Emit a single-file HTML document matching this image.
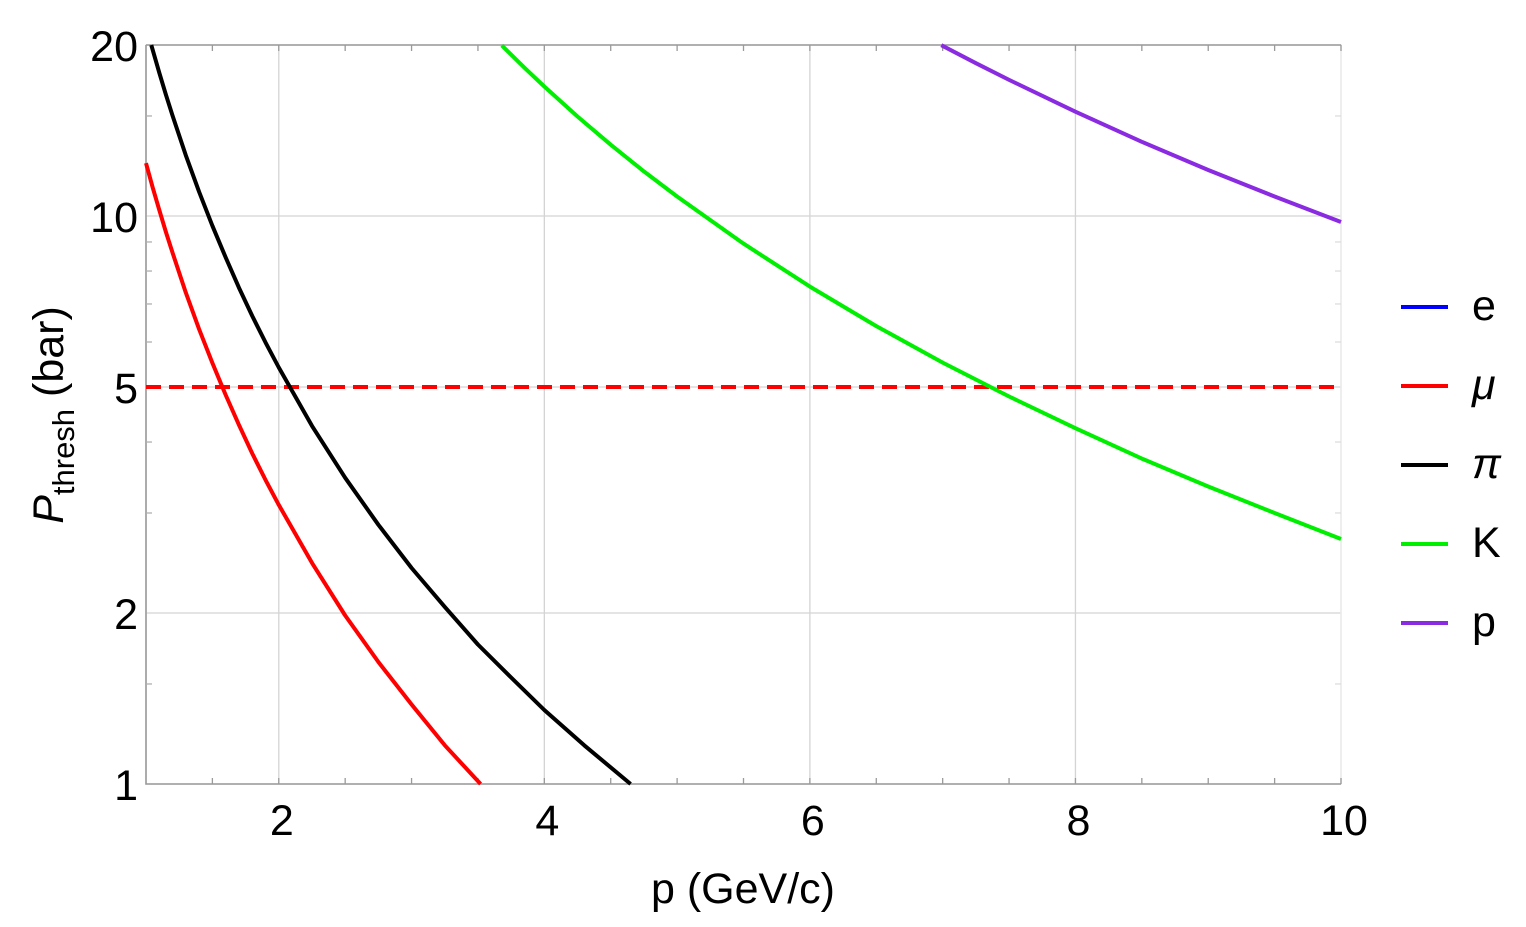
<!DOCTYPE html>
<html><head><meta charset="utf-8"><style>
html,body{margin:0;padding:0;background:#fff;}
svg{display:block;font-family:"Liberation Sans",sans-serif;}
</style></head><body>
<svg id="chart" width="1526" height="927" viewBox="0 0 1526 927" xmlns="http://www.w3.org/2000/svg"></svg>
<script>
const xTicks=[2,4,6,8,10];
const yTicks=[1,2,5,10,20];
const xMinor=[1.5,2.5,3,3.5,4.5,5,5.5,6.5,7,7.5,8.5,9,9.5];
const yMinor=[1.5,3,4,6,7,8,9,15];
const muP=[1.0,1.05,1.1,1.15,1.2,1.3,1.4,1.5,1.6,1.7,1.8,1.9,2.0,2.25,2.5,2.75,3.0,3.25,3.52];
const muV=[12.39,11.24,10.24,9.37,8.61,7.33,6.32,5.51,4.84,4.29,3.82,3.43,3.10,2.45,1.98,1.64,1.38,1.17,1.00];
const piP=[1.04,1.1,1.15,1.2,1.3,1.4,1.5,1.6,1.7,1.8,1.9,2.0,2.25,2.5,2.75,3.0,3.25,3.5,3.75,4.0,4.3,4.65];
const piV=[19.99,17.87,16.35,15.01,12.79,11.03,9.61,8.45,7.48,6.67,5.99,5.41,4.27,3.46,2.86,2.40,2.05,1.76,1.54,1.35,1.17,1.00];
const kP=[3.68,3.85,4.0,4.25,4.5,4.75,5.0,5.5,6.0,6.5,7.0,7.5,8.0,8.5,9.0,9.5,10.0];
const kV=[19.97,18.24,16.9,14.97,13.35,11.98,10.82,8.94,7.51,6.40,5.52,4.81,4.23,3.74,3.34,3.00,2.70];
const prP=[6.99,7.25,7.5,8.0,8.5,9.0,9.5,10.0];
const prV=[19.98,18.58,17.36,15.26,13.51,12.05,10.82,9.76];
const threshold=[5];

const X0=146,X1=1341,Y0=784,Y1=45;
const xs=p=>X0+(p-1)/(10-1)*(X1-X0);
const ys=v=>Y0-Math.log10(v)/Math.log10(20)*(Y0-Y1);
const svg=document.getElementById('chart');
const NS='http://www.w3.org/2000/svg';
function mk(t,a){const e=document.createElementNS(NS,t);for(const k in a)e.setAttribute(k,a[k]);svg.appendChild(e);return e;}

xTicks.forEach(t=>{const l=mk('line',{x1:xs(t),x2:xs(t),y1:Y1,y2:Y0,stroke:'#d4d4d4','stroke-width':1.3});

});
yTicks.forEach(t=>{const l=mk('line',{x1:X0,x2:X1,y1:ys(t),y2:ys(t),stroke:'#d4d4d4','stroke-width':1.3});

});
const fr=mk('rect',{x:X0,y:Y1,width:X1-X0,height:Y0-Y1,fill:'none',stroke:'#ececec','stroke-width':1.5});


const ax=mk('path',{d:`M${X0},${Y1}H${X1}M${X0},${Y1}V${Y0}H${X1}`,fill:'none',stroke:'#9a9a9a','stroke-width':1.6});


xMinor.concat(xTicks).forEach(t=>{const x=xs(t);
const a=mk('line',{x1:x,x2:x,y1:Y0,y2:Y0-6,stroke:'#9a9a9a','stroke-width':1.3});


const b=mk('line',{x1:x,x2:x,y1:Y1,y2:Y1+6,stroke:'#9a9a9a','stroke-width':1.3});

});
yMinor.forEach(t=>{const y=ys(t);
const a=mk('line',{x1:X0,x2:X0+6,y1:y,y2:y,stroke:'#b0b0b0','stroke-width':1.3});


const b=mk('line',{x1:X1,x2:X1-6,y1:y,y2:y,stroke:'#dddddd','stroke-width':1.3});

});
xTicks.forEach(t=>{const e=mk('text',{x:xs(t)+3,y:835,'text-anchor':'middle','font-size':43,fill:'#000'});e.textContent=t;

});
yTicks.forEach(t=>{const e=mk('text',{x:138,y:ys(t)+16,'text-anchor':'end','font-size':43,fill:'#000'});e.textContent=t;

});
threshold.forEach(v=>{const l=mk('line',{x1:X0,x2:X1,y1:ys(v),y2:ys(v),stroke:'#ff0000','stroke-width':4,'stroke-dasharray':'15,8'});

});
function series(P,V,c,name){const d=P.map((p,i)=>(i?'L':'M')+xs(p).toFixed(1)+','+ys(V[i]).toFixed(1)).join('');
const e=mk('path',{d:d,fill:'none',stroke:c,'stroke-width':4,'stroke-linejoin':'round'});

}
series(muP,muV,'#ff0000','series-mu');
series(piP,piV,'#000000','series-pi');
series(kP,kV,'#00ee00','series-k');
series(prP,prV,'#8a2be2','series-p');
const xt=mk('text',{x:743,y:903,'text-anchor':'middle','font-size':43});xt.textContent='p (GeV/c)';


const yt=mk('text',{transform:'translate(63,415) rotate(-90)','text-anchor':'middle','font-size':43});
yt.innerHTML='<tspan font-style="italic">P</tspan><tspan font-size="31" dy="11">thresh</tspan><tspan dy="-11"> (bar)</tspan>';


const legC=['#0000ff','#ff0000','#000000','#00ee00','#8a2be2'];
const legL=['e','μ','π','K','p'];
const legY=[307,386,465,544,623];
legL.forEach((lab,i)=>{const l=mk('line',{x1:1401,x2:1448,y1:legY[i],y2:legY[i],stroke:legC[i],'stroke-width':4});


const t=mk('text',{x:1472,y:legY[i]+13,'font-size':43,'font-style':(i==1||i==2)?'italic':'normal'});t.textContent=lab;

});
</script>
</body></html>
